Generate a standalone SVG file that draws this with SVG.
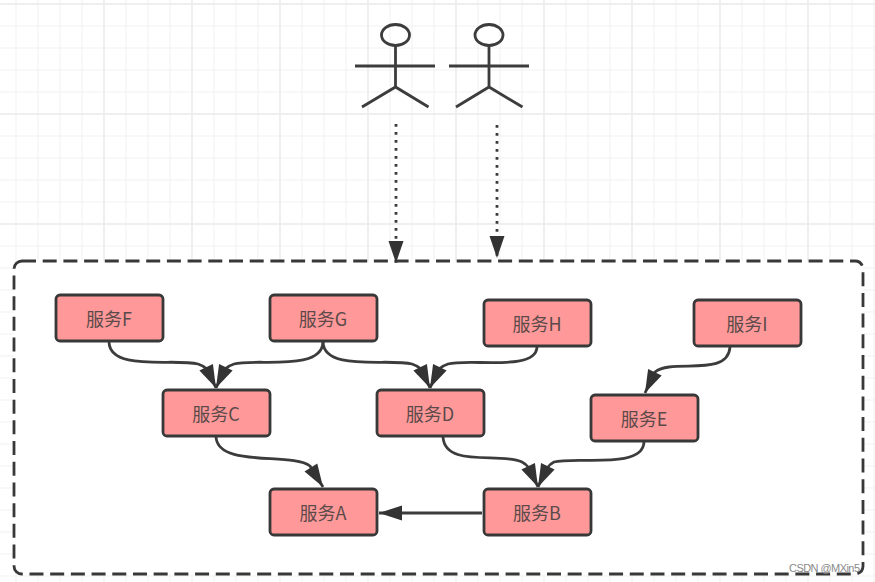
<svg xmlns="http://www.w3.org/2000/svg" width="875" height="582" viewBox="0 0 875 582">
<style>
.g{stroke:#f1f1f1;stroke-width:1;fill:none}
.h{stroke:#ebebeb;stroke-width:1.5;fill:none}
.n rect{fill:#ff9999;stroke:#383838;stroke-width:2.8}
.n text{font:18px "Noto Sans CJK SC","Noto Sans",sans-serif;fill:#5c4a4a;text-anchor:middle}
.a path,.a ellipse{fill:none;stroke:#3c3c3c;stroke-width:2.8}
.c path{fill:none;stroke:#3c3c3c;stroke-width:2.8}
</style>
<defs>
<marker id="ah" markerUnits="userSpaceOnUse" markerWidth="26" markerHeight="22" refX="24" refY="10" orient="auto"><path d="M1,2.500L24,10L1,17.500Z" fill="#333"/></marker>
<marker id="ad" markerUnits="userSpaceOnUse" markerWidth="26" markerHeight="22" refX="24" refY="10" orient="auto"><path d="M2,2.500L24,10L2,17.500Z" fill="#333"/></marker>
</defs>
<rect width="875" height="582" fill="#fff"/>
<g id="grid">
<path class="g" d="M16 0V582M38 0V582M60 0V582M82 0V582M104 0V582M126 0V582M148 0V582M170 0V582M192 0V582M214 0V582M236 0V582M258 0V582M280 0V582M302 0V582M324 0V582M346 0V582M368 0V582M390 0V582M412 0V582M434 0V582M456 0V582M478 0V582M500 0V582M522 0V582M544 0V582M566 0V582M588 0V582M610 0V582M632 0V582M654 0V582M676 0V582M698 0V582M720 0V582M742 0V582M764 0V582M786 0V582M808 0V582M830 0V582M852 0V582M874 0V582"/>
<path class="g" d="M0 4H875M0 26H875M0 48H875M0 70H875M0 92H875M0 114H875M0 136H875M0 158H875M0 180H875M0 202H875M0 224H875M0 246H875M0 268H875M0 290H875M0 312H875M0 334H875M0 356H875M0 378H875M0 400H875M0 422H875M0 444H875M0 466H875M0 488H875M0 510H875M0 532H875M0 554H875M0 576H875"/>
<path class="h" d="M104 0V262M192 0V262M280 0V262M368 0V262M456 0V262M544 0V262M632 0V262M720 0V262M808 0V262M0 4H875M0 114H875M0 224H875"/>
</g>
<g id="system"><rect x="14" y="261" width="849" height="313" rx="8" fill="#fff" stroke="#383838" stroke-width="2.800" stroke-dasharray="14 6.700"/></g>
<g id="actor1" class="a"><ellipse cx="395.500" cy="35" rx="14" ry="10.500"/><path d="M395.500 45.500V87M355 66H435M362 107L395.500 87L428.500 107"/></g>
<g id="actor2" class="a"><ellipse cx="489" cy="35" rx="14" ry="10.500"/><path d="M489 45.500V87M449 66H529M456 107L489 87L522.500 107"/></g>
<g id="connectors" class="c">
<path d="M396 124V263" stroke-dasharray="2.800 5.200" marker-end="url(#ad)"/>
<path d="M497 125V258" stroke-dasharray="2.800 5.200" marker-end="url(#ad)"/>
<path d="M109 342C110 372 175 358 198 364Q204 366 207 369L216 388" marker-end="url(#ah)"/>
<path d="M323 342C322 372 255 358 234 364Q228 366 225 369L216 388" marker-end="url(#ah)"/>
<path d="M323 342C324 372 389 358 412 364Q418 366 421 369L430 388" marker-end="url(#ah)"/>
<path d="M537 347C536 372 469 358 448 364Q442 366 439 369L430 388" marker-end="url(#ah)"/>
<path d="M730 347C728 378 672 358 655 372L645 393" marker-end="url(#ah)"/>
<path d="M216 437C218 468 292 452 310 466L323 487" marker-end="url(#ah)"/>
<path d="M443 437C445 468 500 452 522 462Q526 464 529 468L538 487" marker-end="url(#ah)"/>
<path d="M644 442C643 470 575 456 554 462Q550 464 547 468L538 487" marker-end="url(#ah)"/>
<path d="M482 513H379" marker-end="url(#ah)"/>
</g>
<g id="nodeF" class="n"><rect x="56" y="295" width="107" height="46" rx="4"/><text x="109" y="325.500">服务F</text></g>
<g id="nodeG" class="n"><rect x="270" y="295" width="107" height="46" rx="4"/><text x="323" y="325.500">服务G</text></g>
<g id="nodeH" class="n"><rect x="484" y="300" width="107" height="46" rx="4"/><text x="537" y="330.500">服务H</text></g>
<g id="nodeI" class="n"><rect x="694" y="300" width="107" height="46" rx="4"/><text x="747" y="330.500">服务I</text></g>
<g id="nodeC" class="n"><rect x="163" y="390" width="107" height="46" rx="4"/><text x="216" y="420.500">服务C</text></g>
<g id="nodeD" class="n"><rect x="377" y="390" width="107" height="46" rx="4"/><text x="430" y="420.500">服务D</text></g>
<g id="nodeE" class="n"><rect x="591" y="395" width="107" height="46" rx="4"/><text x="644" y="425.500">服务E</text></g>
<g id="nodeA" class="n"><rect x="270" y="489" width="107" height="46" rx="4"/><text x="323" y="519.500">服务A</text></g>
<g id="nodeB" class="n"><rect x="484" y="489" width="107" height="46" rx="4"/><text x="537" y="519.500">服务B</text></g>
<text x="789" y="572" font-family="Liberation Sans,sans-serif" font-size="11" fill="#8a8a8a" textLength="71">CSDN @MXin5</text>
</svg>
